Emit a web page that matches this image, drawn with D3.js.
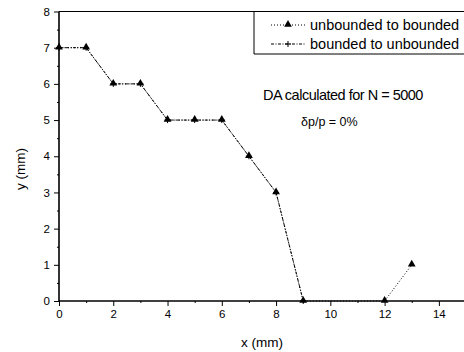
<!DOCTYPE html>
<html><head><meta charset="utf-8">
<script src="https://cdn.jsdelivr.net/npm/d3@7/dist/d3.min.js"></script>
<style>body{margin:0;background:#fff}svg{display:block}text{font-family:Arial,"Liberation Sans",sans-serif;fill:#000}</style>
</head><body>
<svg id="c" width="464" height="352"></svg>
<script>
// Data
const xUB = [0,1,2,3,4,5,6,7,8,9,12,13];
const yUB = [7,7,6,6,5,5,5,4,3,0,0,1];
const xBU = [0,1,2,3,4,5,6,7,8,9];
const yBU = [7,7,6,6,5,5,5,4,3,0];
const xTicks = [0,2,4,6,8,10,12,14];
const yTicks = [0,1,2,3,4,5,6,7,8];
const seriesNames = ["unbounded to bounded","bounded to unbounded"];

const svg = d3.select("#c");
const x = d3.scaleLinear().domain([0,15]).range([59,466]);
const y = d3.scaleLinear().domain([0,8]).range([301,11.5]);

// frame top
svg.append("line").attr("x1",x(0)).attr("x2",x(15)).attr("y1",y(8)).attr("y2",y(8)).attr("stroke","#000").attr("stroke-width",1.2);

// x axis
const gx = svg.append("g").attr("transform",`translate(0,${y(0)})`);
gx.call(d3.axisBottom(x).tickValues(d3.range(1,15,2)).tickSize(2).tickFormat(""));
gx.call(g=>g.select(".domain").remove());
const gx2 = svg.append("g").attr("transform",`translate(0,${y(0)})`)
  .call(d3.axisBottom(x).tickValues(xTicks).tickSize(5).tickPadding(4).tickFormat(d3.format("d")));
gx2.select(".domain").attr("stroke-width",1.6).attr("d",`M${x(0)},0H${x(15)}`);
gx2.selectAll("text").attr("font-size",11.5).attr("font-family","Arial,'Liberation Sans',sans-serif");

// y axis
const gy = svg.append("g").attr("transform",`translate(${x(0)},0)`);
gy.call(d3.axisLeft(y).tickValues(d3.range(0.5,8,1)).tickSize(2).tickFormat(""));
gy.call(g=>g.select(".domain").remove());
const gy2 = svg.append("g").attr("transform",`translate(${x(0)},0)`)
  .call(d3.axisLeft(y).tickValues(yTicks).tickSize(5).tickPadding(4).tickFormat(d3.format("d")));
gy2.select(".domain").attr("stroke-width",1.6).attr("d",`M0,${y(0)}V${y(8)}`);
gy2.selectAll("text").attr("font-size",11.5).attr("font-family","Arial,'Liberation Sans',sans-serif");

// lines
const line = d3.line().x(d=>x(d[0])).y(d=>y(d[1]));
const dUB = xUB.map((v,i)=>[v,yUB[i]]);
const dBU = xBU.map((v,i)=>[v,yBU[i]]);
svg.append("path").datum(dBU).attr("d",line).attr("fill","none").attr("stroke","#000").attr("stroke-width",1).attr("stroke-dasharray","3,1.5,1,1.5");
svg.append("path").datum(dUB).attr("d",line).attr("fill","none").attr("stroke","#000").attr("stroke-width",1).attr("stroke-dasharray","1,2");

const tri = d3.symbol().type(d3.symbolTriangle).size(26);
svg.selectAll(".ub").data(dUB).join("path").attr("class","ub")
  .attr("transform",d=>`translate(${x(d[0])},${y(d[1])-0.5})`).attr("d",tri).attr("fill","#000");
svg.selectAll(".bu").data(dBU).join("path").attr("class","bu")
  .attr("d",d=>`M${x(d[0])-3},${y(d[1])}H${x(d[0])+3}M${x(d[0])},${y(d[1])-3}V${y(d[1])+3}`)
  .attr("stroke","#000").attr("stroke-width",1);

// legend
svg.append("path").attr("d",`M${254},${y(8)}V54H466`).attr("fill","none").attr("stroke","#000").attr("stroke-width",1);
const ly = [25,44];
svg.append("line").attr("x1",271).attr("x2",305).attr("y1",ly[0]).attr("y2",ly[0]).attr("stroke","#000").attr("stroke-dasharray","1,2");
svg.append("path").attr("transform",`translate(288,${ly[0]-0.5})`).attr("d",tri).attr("fill","#000");
svg.append("line").attr("x1",271).attr("x2",305).attr("y1",ly[1]).attr("y2",ly[1]).attr("stroke","#000").attr("stroke-dasharray","3,1.5,1,1.5");
svg.append("path").attr("d",`M285,${ly[1]}H291M288,${ly[1]-3}V${ly[1]+3}`).attr("stroke","#000");
seriesNames.forEach((n,i)=>svg.append("text").attr("x",310).attr("y",ly[i]+5).attr("font-size",14.5).text(n));

// annotations
svg.append("text").attr("x",263).attr("y",100).attr("font-size",14.5).attr("letter-spacing",-0.5).text("DA calculated for N = 5000");
svg.append("text").attr("x",301).attr("y",126).attr("font-size",12.5).text("δp/p = 0%");

// axis titles
svg.append("text").attr("x",262).attr("y",347).attr("text-anchor","middle").attr("font-size",13.5).text("x (mm)");
svg.append("text").attr("transform",`translate(25,169) rotate(-90)`).attr("text-anchor","middle").attr("font-size",13.5).text("y (mm)");
</script>
</body></html>
